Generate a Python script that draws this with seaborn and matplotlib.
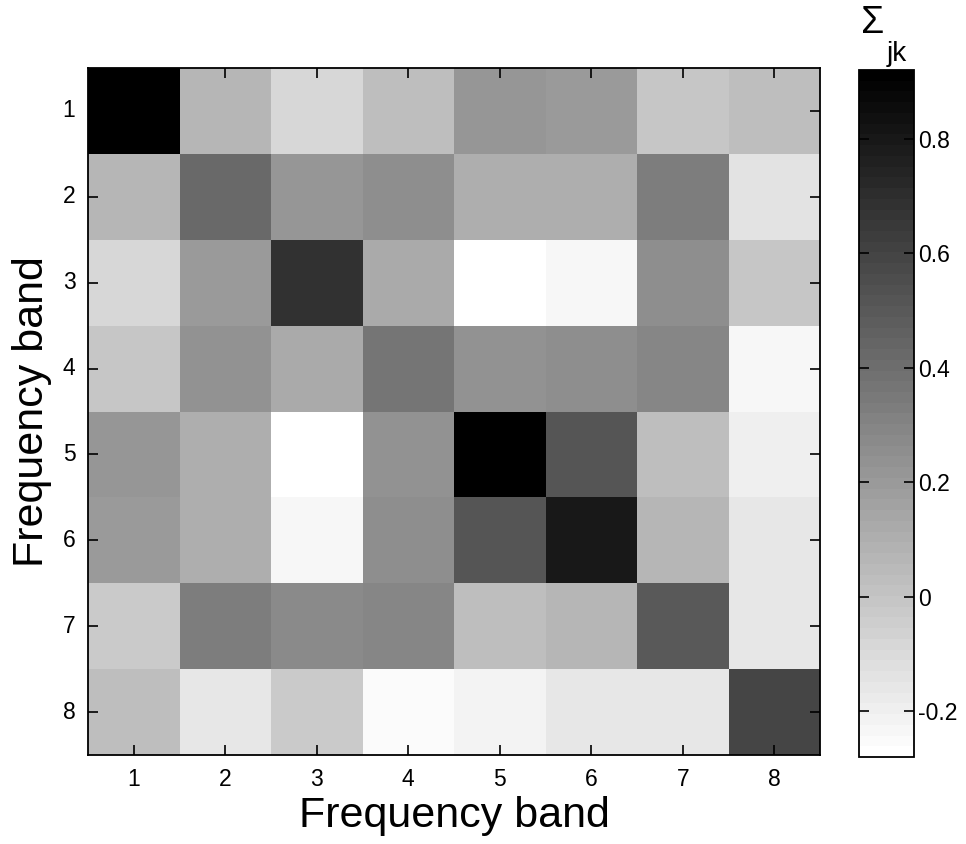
import numpy as np
import pandas as pd
import matplotlib
matplotlib.use("Agg")
import matplotlib.pyplot as plt
import matplotlib.ticker as mticker
import seaborn as sns

bands = [1, 2, 3, 4, 5, 6, 7, 8]
row1 = [0.92, 0.07, -0.09, 0.02, 0.22, 0.19, 0.00, 0.02]
row2 = [0.07, 0.43, 0.21, 0.25, 0.11, 0.10, 0.32, -0.14]
row3 = [-0.09, 0.20, 0.69, 0.12, -0.28, -0.23, 0.26, -0.01]
row4 = [0.00, 0.24, 0.12, 0.37, 0.24, 0.26, 0.30, -0.23]
row5 = [0.21, 0.10, -0.28, 0.24, 0.91, 0.52, 0.03, -0.20]
row6 = [0.19, 0.10, -0.23, 0.25, 0.51, 0.79, 0.07, -0.15]
row7 = [-0.02, 0.33, 0.27, 0.30, 0.03, 0.07, 0.49, -0.16]
row8 = [0.02, -0.15, -0.02, -0.25, -0.21, -0.16, -0.16, 0.60]
cbar_ticks = [-0.2, 0, 0.2, 0.4, 0.6, 0.8]
vmin, vmax = -0.28, 0.92

df = pd.DataFrame([row1, row2, row3, row4, row5, row6, row7, row8],
                  index=bands, columns=bands)

sns.set_style("white")
plt.rcParams['font.family'] = ['Liberation Sans', 'DejaVu Sans']
for k in ['text.color', 'axes.labelcolor', 'xtick.color', 'ytick.color']:
    plt.rcParams[k] = 'black'

fig = plt.figure(figsize=(9.66, 8.44), dpi=100)
ax = fig.add_axes([88/966, 1-755/844, 732/966, 687/844])
cax = fig.add_axes([859/966, 1-757/844, 55/966, 687/844])

cmap = plt.get_cmap('gray_r', 64)
sns.heatmap(df, cmap=cmap, vmin=vmin, vmax=vmax, ax=ax, cbar_ax=cax,
            linewidths=0, square=False)
ax.set_axisbelow(False)
cax.set_axisbelow(False)

ax.set_xticks(np.arange(len(bands)) + 0.5)
ax.set_xticklabels([str(b) for b in bands], rotation=0)
ax.set_yticks(np.arange(len(bands)) + 0.5)
ax.set_yticklabels([str(b) for b in bands], rotation=0)
ax.tick_params(axis='both', direction='in', length=7, width=1.2,
               top=True, right=True, bottom=True, left=True,
               labelsize=16.5, pad=9, color='black', labelcolor='black')
for s in ax.spines.values():
    s.set_visible(True)
    s.set_color('black')
    s.set_linewidth(1.3)
ax.set_xlabel("Frequency band", fontsize=31, labelpad=4)
ax.set_ylabel("Frequency band", fontsize=31, labelpad=8)

cbar = ax.collections[0].colorbar
cbar.set_ticks(cbar_ticks)
cbar.ax.yaxis.set_major_formatter(mticker.FuncFormatter(lambda v, p: "0" if abs(v) < 1e-9 else f"{v:g}"))
cax.tick_params(direction='in', length=7, width=1.2, left=True, right=True,
                labelsize=16.5, pad=3, color='black', labelcolor='black')
cbar.outline.set_visible(True)
cbar.outline.set_edgecolor('black')
cbar.outline.set_linewidth(1.3)

fig.text(861/966, 1-33/844, "\u03a3", fontsize=27, va='baseline', ha='left')
fig.text(887/966, 1-61/844, "jk", fontsize=20, va='baseline', ha='left')

fig.savefig("out.png", dpi=100)
